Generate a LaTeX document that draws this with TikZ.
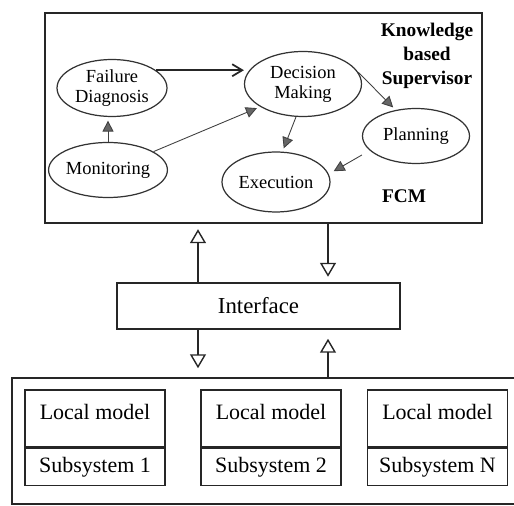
\documentclass[tikz,border=0pt]{standalone}
\usepackage{fontspec}
\setmainfont{Liberation Serif}
\usetikzlibrary{positioning,arrows.meta,shapes.geometric,calc}

\begin{document}
\begin{tikzpicture}[x=0.02cm, y=-0.02cm,
  frame/.style={draw=black!85, line width=1.1pt, rectangle, inner sep=0pt},
  task/.style={draw=black!80, ellipse, line width=0.7pt, inner sep=0pt, align=center, font=\fontsize{10.5}{11.5}\selectfont},
  lmbox/.style={draw=black!85, line width=0.9pt, minimum width=2.8cm, minimum height=1.14cm, text height=9pt, text depth=8pt, font=\fontsize{12.5}{14}\selectfont},
  ssbox/.style={lmbox, minimum height=0.74cm, text height=9pt, text depth=2.5pt},
  tag/.style={font=\bfseries\fontsize{11}{13.6}\selectfont, align=center},
  flow/.style={-{Straight Barb[length=2mm, width=2.4mm]}, black!85, line width=1pt},
  link/.style={-{Triangle[length=2.2mm, width=2.2mm, fill=black!60]}, black!75, line width=0.5pt, shorten >=2pt},
  bus/.style={-{Triangle[open, length=2.8mm, width=3.2mm, line width=0.8pt]}, black!85, line width=1.1pt, shorten >=3pt}
]
\path[use as bounding box, clip] (0,0) rectangle (514,506);

% Supervisor frame
\node[frame, minimum width=8.74cm, minimum height=4.2cm] (fcm) at (263.5,118) {};
\node[tag] (kbs) at (427,56) {Knowledge\\based\\Supervisor};
\node[tag] (fcmlbl) at (404,196) {FCM};

% Tasks
\node[task, minimum width=2.2cm, minimum height=1.14cm] (fd) at (112,88) {Failure\\Diagnosis};
\node[task, minimum width=2.34cm, minimum height=1.3cm] (dm) at (303,84) {Decision\\Making};
\node[task, minimum width=2.14cm, minimum height=1.1cm] (pl) at (416,136) {Planning};
\node[task, minimum width=2.12cm, minimum height=1.1cm] (mon) at (108,170) {Monitoring};
\node[task, minimum width=2.16cm, minimum height=1.2cm] (ex) at (276,182) {Execution};

% Interface and plant
\node[frame, minimum width=5.66cm, minimum height=0.92cm, font=\fontsize{13}{15}\selectfont] (iface) at (258.5,306) {Interface};
\node[frame, minimum width=10.4cm, minimum height=2.52cm] (plant) at (272,441) {};

\node[lmbox] (lm1) at (95,418.5) {Local model};
\node[ssbox, below=0pt of lm1] (ss1) {Subsystem 1};
\node[lmbox] (lm2) at (271,418.5) {Local model};
\node[ssbox, below=0pt of lm2] (ss2) {Subsystem 2};
\node[lmbox] (lmN) at (437.5,418.5) {Local model};
\node[ssbox, below=0pt of lmN] (ssN) {Subsystem N};

% Task arrows
\draw[flow] (fd.22) -- (fd.22 -| dm.west);
\draw[link] (mon.north) -- (mon.north |- fd.south);
\draw[link] (mon.22) -- (dm.208);
\draw[link] (dm.258) -- (ex.78);
\draw[link] (dm.12) -- (pl.128);
\draw[link] ($(pl.west)+(0,19)$) -- ($(ex.east)+(0,-9)$);

% Bus arrows
\coordinate (busL) at (198,0);
\coordinate (busR) at (328,0);
\draw[bus] (iface.north -| busL) -- (fcm.south -| busL);
\draw[bus] (fcm.south -| busR) -- (iface.north -| busR);
\draw[bus, shorten >=5pt] (iface.south -| busL) -- (plant.north -| busL);
\draw[bus, shorten >=5pt] (plant.north -| busR) -- (iface.south -| busR);

\end{tikzpicture}
\end{document}
